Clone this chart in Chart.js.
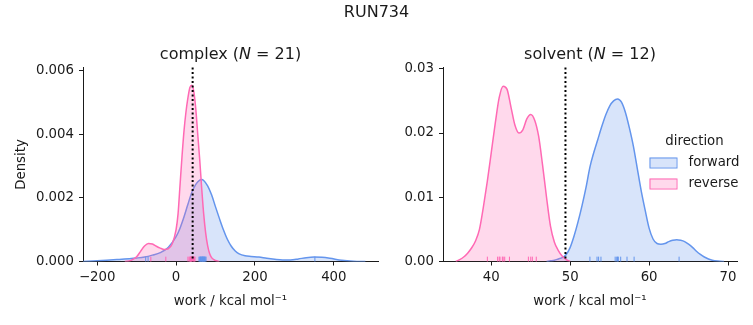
<!DOCTYPE html>
<html lang="en">
<head>
<meta charset="UTF-8">
<title>RUN734</title>
<script src="https://cdn.jsdelivr.net/npm/chart.js"></script>
<style>
  body { margin: 0; background: #fff; }
  .wrap { position: relative; width: 753px; height: 325px; }
  .wrap canvas { position: absolute; left: 0; top: 0; }
</style>
</head>
<body>
<div class="wrap">
  <canvas id="complexChart" width="753" height="325"></canvas>
  <canvas id="solventChart" width="753" height="325"></canvas>
</div>
<script>
// ---------- data ----------
const suptitle = 'RUN734';
const panelNames = ['complex', 'solvent'];
const panelN = [21, 12];
const directions = ['forward', 'reverse'];

// complex: KDE curves (work, density)
const complexForwardX = [-236, -200, -150, -100, -80, -60, -40, -20, 0, 10, 20, 30, 40, 50, 60, 65, 70, 80, 90, 100, 110, 120, 130, 140, 150, 160, 175, 190, 210, 230, 250, 270, 290, 310, 330, 350, 370, 390, 420, 450, 480];
const complexForwardY = [0, 0.00002, 0.00006, 0.00011, 0.00014, 0.0002, 0.00028, 0.00044, 0.00078, 0.00105, 0.0014, 0.0018, 0.00218, 0.00243, 0.00256, 0.00258, 0.00255, 0.00238, 0.0021, 0.00172, 0.00135, 0.001, 0.0007, 0.00048, 0.00033, 0.00024, 0.00018, 0.00016, 0.00014, 0.0001, 0.00007, 0.00005, 0.00005, 0.00008, 0.00012, 0.00014, 0.00013, 0.0001, 0.00004, 0.00001, 0];
const complexReverseX = [-130, -115, -100, -90, -80, -70, -60, -50, -40, -30, -20, -10, 0, 5, 10, 15, 20, 25, 30, 35, 40, 45, 50, 55, 60, 65, 70, 75, 80, 85, 90, 100, 110];
const complexReverseY = [0, 0.00003, 0.00015, 0.00032, 0.00049, 0.00057, 0.00055, 0.00048, 0.00042, 0.00038, 0.0004, 0.00055, 0.001, 0.0015, 0.0024, 0.0033, 0.0041, 0.0047, 0.00515, 0.00548, 0.00555, 0.00535, 0.0048, 0.004, 0.0032, 0.0023, 0.0015, 0.0009, 0.0005, 0.00025, 0.00012, 0.00003, 0];
const complexForwardRug = [-77, -71, 58, 60, 61, 62, 63, 64, 65, 66, 67, 68, 68, 69, 70, 71, 72, 73, 74, 76, 352];
const complexReverseRug = [-64, -26, 30, 33, 35, 36, 37, 38, 38, 39, 40, 40, 41, 41, 42, 43, 43, 44, 45, 46, 48];
const complexRefLine = 42;

// solvent: KDE curves
const solventForwardX = [47, 47.5, 48, 48.5, 49, 49.5, 50, 50.5, 51, 51.5, 52, 52.5, 53, 53.5, 54, 54.5, 55, 55.5, 56, 56.5, 57, 57.5, 58, 58.5, 59, 59.5, 60, 60.5, 61, 61.5, 62, 62.5, 63, 63.5, 64, 64.5, 65, 65.5, 66, 66.5, 67, 68, 69, 69.5];
const solventForwardY = [0, 0.0001, 0.0002, 0.0004, 0.0006, 0.0011, 0.0022, 0.004, 0.0062, 0.0087, 0.0115, 0.0147, 0.017, 0.019, 0.021, 0.0228, 0.0242, 0.025, 0.0253, 0.0248, 0.0232, 0.0208, 0.018, 0.0145, 0.011, 0.008, 0.0052, 0.0035, 0.0028, 0.0027, 0.0028, 0.0031, 0.0033, 0.0034, 0.0033, 0.0031, 0.0027, 0.0022, 0.0016, 0.0011, 0.0007, 0.0002, 0.00005, 0];
const solventReverseX = [35.5, 36, 36.5, 37, 37.5, 38, 38.5, 39, 39.5, 40, 40.5, 41, 41.5, 42, 42.5, 43, 43.5, 44, 44.5, 45, 45.5, 46, 46.5, 47, 47.5, 48, 48.5, 49, 49.5, 50];
const solventReverseY = [0, 0.0003, 0.0007, 0.0013, 0.0021, 0.0032, 0.005, 0.0085, 0.0125, 0.017, 0.0215, 0.0255, 0.0273, 0.0268, 0.024, 0.0212, 0.02, 0.0205, 0.0222, 0.0229, 0.022, 0.0195, 0.015, 0.01, 0.0055, 0.003, 0.0017, 0.0008, 0.0003, 0];
const solventForwardRug = [52.5, 53.4, 53.6, 53.9, 55.7, 55.9, 56.0, 56.1, 56.4, 57.2, 58.1, 63.8];
const solventReverseRug = [39.5, 40.8, 41.0, 41.1, 41.4, 41.5, 41.7, 42.3, 44.7, 45.0, 45.2, 45.7];
const solventRefLine = 49.4;

// axes
const complexXTicks = [-200, 0, 200, 400];
const complexXTickLabels = ['\u2212200', '0', '200', '400'];
const complexYTicks = [0, 0.002, 0.004, 0.006];
const complexYTickLabels = ['0.000', '0.002', '0.004', '0.006'];
const solventXTicks = [40, 50, 60, 70];
const solventXTickLabels = ['40', '50', '60', '70'];
const solventYTicks = [0, 0.01, 0.02, 0.03];
const solventYTickLabels = ['0.00', '0.01', '0.02', '0.03'];
const xTitle = 'work / kcal mol\u207B\u00B9';
const yTitle = 'Density';

// ---------- styles ----------
const FONT = '"DejaVu Sans", sans-serif';
const TEXT = '#1a1a1a';
const blue = 'rgb(100, 149, 237)';
const blueFill = 'rgba(100, 149, 237, 0.25)';
const pink = 'rgb(255, 105, 180)';
const pinkFill = 'rgba(255, 105, 180, 0.25)';

Chart.defaults.font.family = FONT;
Chart.defaults.font.size = 13.3;
Chart.defaults.color = TEXT;

function points(xs, ys) {
    return xs.map((x, i) => ({ x: x, y: ys[i] }));
}

function drawPanelTitle(ctx, cx, cy, name, n) {
    const normal = '16px ' + FONT;
    const italic = 'italic 16px ' + FONT;
    const parts = [[name + ' (', normal], ['N', italic], [' = ' + n + ')', normal]];
    let total = 0;
    parts.forEach(p => { ctx.font = p[1]; total += ctx.measureText(p[0]).width; });
    let x = cx - total / 2;
    ctx.fillStyle = TEXT;
    ctx.textAlign = 'left';
    ctx.textBaseline = 'middle';
    parts.forEach(p => {
        ctx.font = p[1];
        ctx.fillText(p[0], x, cy);
        x += ctx.measureText(p[0]).width;
    });
}

// rug ticks, dotted reference line, titles and legend
const overlayPlugin = {
    id: 'overlay',
    afterDatasetsDraw(chart, args, opts) {
        const { ctx, chartArea: a, scales: { x } } = chart;
        const rugH = (a.bottom - a.top) * 0.025;
        ctx.save();
        opts.rugs.forEach(r => {
            ctx.strokeStyle = r.color;
            ctx.lineWidth = 1;
            r.values.forEach(v => {
                const px = x.getPixelForValue(v);
                ctx.beginPath();
                ctx.moveTo(px, a.bottom);
                ctx.lineTo(px, a.bottom - rugH);
                ctx.stroke();
            });
        });
        const vx = x.getPixelForValue(opts.refLine);
        ctx.strokeStyle = '#000';
        ctx.lineWidth = 2;
        ctx.setLineDash([2, 2.5]);
        ctx.beginPath();
        ctx.moveTo(vx, a.top);
        ctx.lineTo(vx, a.bottom);
        ctx.stroke();
        ctx.restore();
    },
    afterDraw(chart, args, opts) {
        const { ctx, chartArea: a } = chart;
        ctx.save();
        drawPanelTitle(ctx, (a.left + a.right) / 2, 54.5, opts.name, opts.n);
        if (opts.suptitle) {
            ctx.font = '16px ' + FONT;
            ctx.textAlign = 'center';
            ctx.textBaseline = 'middle';
            ctx.fillText(opts.suptitle, 376.5, 12.5);
        }
        if (opts.legend) {
            const L = opts.legend;
            ctx.font = '13.3px ' + FONT;
            ctx.fillStyle = TEXT;
            ctx.textAlign = 'center';
            ctx.textBaseline = 'middle';
            ctx.fillText(L.title, L.x + 45, L.y);
            chart.data.datasets.forEach((ds, i) => {
                const y = L.y + 21 + i * 21;
                ctx.fillStyle = ds.backgroundColor;
                ctx.fillRect(L.x, y - 5, 27, 10);
                ctx.strokeStyle = ds.borderColor;
                ctx.lineWidth = 1;
                ctx.strokeRect(L.x + 0.5, y - 4.5, 27, 10);
                ctx.fillStyle = TEXT;
                ctx.textAlign = 'left';
                ctx.fillText(ds.label, L.x + 39, y);
            });
        }
        ctx.restore();
    }
};

function axis(ticks, labels, min, max, size, title, titlePad, horizontal) {
    return {
        type: 'linear',
        min: min,
        max: max,
        afterBuildTicks: s => { s.ticks = ticks.map(v => ({ value: v })); },
        afterFit: s => { if (horizontal) { s.height = size; } else { s.width = size; } },
        ticks: {
            autoSkip: false,
            maxRotation: 0,
            padding: horizontal ? 4.5 : 5,
            color: TEXT,
            callback: (v, i) => labels[i]
        },
        grid: { drawOnChartArea: false, drawTicks: true, tickLength: 4, tickColor: TEXT, tickWidth: 1 },
        border: { display: true, color: TEXT, width: 1 },
        title: { display: !!title, text: title, color: TEXT, font: { size: 13.3 }, padding: titlePad }
    };
}

function kdeDataset(label, xs, ys, line, fill, order) {
    return {
        label: label,
        data: points(xs, ys),
        borderColor: line,
        backgroundColor: fill,
        borderWidth: 1.5,
        pointRadius: 0,
        fill: 'origin',
        cubicInterpolationMode: 'monotone',
        order: order
    };
}

new Chart(document.getElementById('complexChart'), {
    type: 'line',
    data: {
        datasets: [
            kdeDataset(directions[0], complexForwardX, complexForwardY, blue, blueFill, 2),
            kdeDataset(directions[1], complexReverseX, complexReverseY, pink, pinkFill, 1)
        ]
    },
    plugins: [overlayPlugin],
    options: {
        responsive: false,
        animation: false,
        events: [],
        layout: { padding: { left: 0, right: 375, top: 67.5, bottom: 0 } },
        scales: {
            x: axis(complexXTicks, complexXTickLabels, -236, 512, 63.5, xTitle, { top: 4, bottom: 15 }, true),
            y: axis(complexYTicks, complexYTickLabels, 0, 0.00611, 83, yTitle, { top: 13.5, bottom: 4 }, false)
        },
        plugins: {
            legend: { display: false },
            tooltip: { enabled: false },
            overlay: {
                name: panelNames[0], n: panelN[0], suptitle: suptitle, refLine: complexRefLine,
                rugs: [{ values: complexForwardRug, color: blue }, { values: complexReverseRug, color: pink }]
            }
        }
    }
});

new Chart(document.getElementById('solventChart'), {
    type: 'line',
    data: {
        datasets: [
            kdeDataset(directions[0], solventForwardX, solventForwardY, blue, blueFill, 2),
            kdeDataset(directions[1], solventReverseX, solventReverseY, pink, pinkFill, 1)
        ]
    },
    plugins: [overlayPlugin],
    options: {
        responsive: false,
        animation: false,
        events: [],
        layout: { padding: { left: 390, right: 16, top: 67.5, bottom: 0 } },
        scales: {
            x: axis(solventXTicks, solventXTickLabels, 33.88, 71.14, 63.5, xTitle, { top: 4, bottom: 15 }, true),
            y: axis(solventYTicks, solventYTickLabels, 0, 0.0302, 53, '', { top: 4, bottom: 4 }, false)
        },
        plugins: {
            legend: { display: false },
            tooltip: { enabled: false },
            overlay: {
                name: panelNames[1], n: panelN[1], refLine: solventRefLine,
                rugs: [{ values: solventForwardRug, color: blue }, { values: solventReverseRug, color: pink }],
                legend: { title: 'direction', x: 649.5, y: 141.5 }
            }
        }
    }
});
</script>
</body>
</html>
